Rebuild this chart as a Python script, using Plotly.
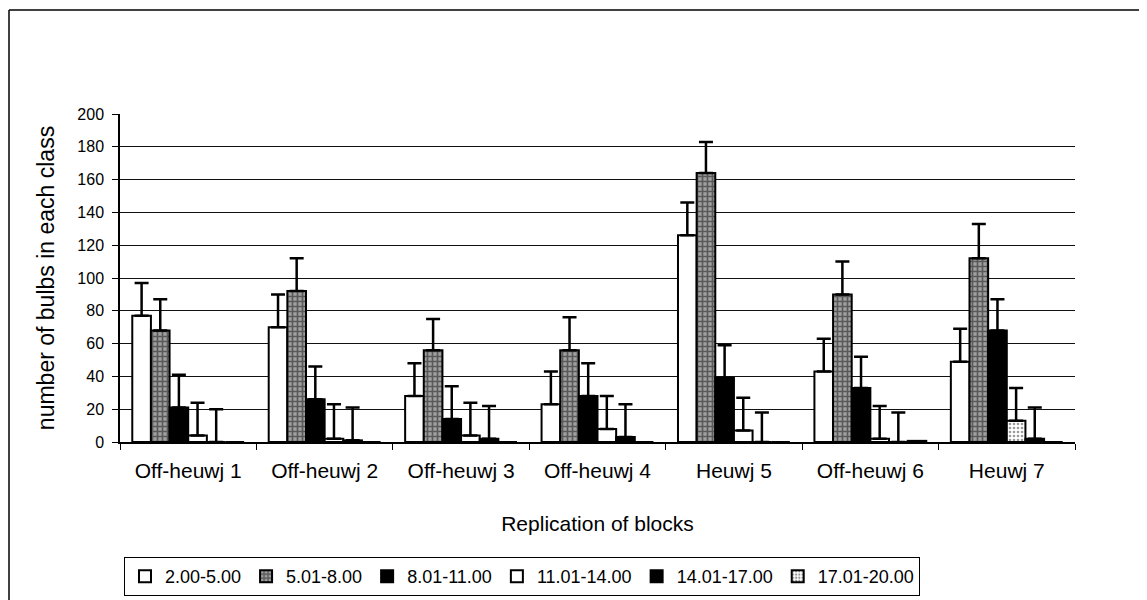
import plotly.graph_objects as go

categories = ["Off-heuwj 1", "Off-heuwj 2", "Off-heuwj 3", "Off-heuwj 4",
              "Heuwj 5", "Off-heuwj 6", "Heuwj 7"]
series_names = ["2.00-5.00", "5.01-8.00", "8.01-11.00", "11.01-14.00",
                "14.01-17.00", "17.01-20.00"]

v_2_5 = [77, 70, 28, 23, 126, 43, 49]
v_5_8 = [68, 92, 56, 56, 164, 90, 112]
v_8_11 = [21, 26, 14, 28, 39, 33, 68]
v_11_14 = [4, 2, 4, 8, 7, 2, 13]
v_14_17 = [0, 1, 2, 3, 0, 0, 2]
v_17_20 = [0, 0, 0, 0, 0, 0.7, 0]

e_2_5 = [20, 20, 20, 20, 20, 20, 20]
e_5_8 = [19, 20, 19, 20, 19, 20, 21]
e_8_11 = [20, 20, 20, 20, 20, 19, 19]
e_11_14 = [20, 21, 20, 20, 20, 20, 20]
e_14_17 = [20, 20, 20, 20, 18, 18, 19]
e_17_20 = None

y_ticks = [0, 20, 40, 60, 80, 100, 120, 140, 160, 180, 200]

values = [v_2_5, v_5_8, v_8_11, v_11_14, v_14_17, v_17_20]
errors = [e_2_5, e_5_8, e_8_11, e_11_14, e_14_17, e_17_20]

styles = [
    dict(color="white", pattern=dict(shape="")),
    dict(color="#888888", pattern=dict(shape="+", fgcolor="#111111", bgcolor="#a0a0a0",
                                       size=5, solidity=0.55)),
    dict(color="black", pattern=dict(shape="")),
    dict(color="white", pattern=dict(shape=["", "", "", "", "", "", "."],
                                     fgcolor="#333333", bgcolor="white",
                                     size=4, solidity=0.35)),
    dict(color="black", pattern=dict(shape="")),
    dict(color="#bbbbbb", pattern=dict(shape=".", fgcolor="#222222", bgcolor="white",
                                       size=4, solidity=0.4)),
]

FONT = "Liberation Sans, Arial, sans-serif"

fig = go.Figure()
for name, vals, err, st in zip(series_names, values, errors, styles):
    kw = {}
    if err is not None:
        kw["error_y"] = dict(type="data", array=err, arrayminus=[0] * len(err),
                             symmetric=False, color="black", thickness=2.5, width=7)
    fig.add_trace(go.Bar(
        x=categories, y=vals, name=name,
        marker=dict(color=st["color"], pattern=st["pattern"],
                    line=dict(color="black", width=2)),
        **kw))

# page offset (body margin) of the rendered figure
OFF = 8
W, H = 1139, 592
L, T = 112, 106
pw, ph = 955, 328
R = W - L - pw
B = H - T - ph


def px_x(sx):
    return (sx - OFF - L) / pw


def px_y(sy):
    return (H - B - (sy - OFF)) / ph


fig.update_layout(
    width=W, height=H,
    margin=dict(l=L, r=R, t=T, b=B, autoexpand=False),
    paper_bgcolor="white", plot_bgcolor="white",
    barmode="group", bargap=0.18, bargroupgap=0,
    font=dict(family=FONT, color="black"),
    showlegend=True,
    legend=dict(orientation="h", x=px_x(124), y=px_y(557),
                xanchor="left", yanchor="top",
                bordercolor="black", borderwidth=1,
                font=dict(size=18, family=FONT),
                itemwidth=30, tracegroupgap=0,
                traceorder="normal"),
    xaxis=dict(
        showline=True, linecolor="black", linewidth=1.5,
        ticks="outside", tickson="boundaries", ticklen=6, tickcolor="black",
        tickfont=dict(size=21, family=FONT),
        ticklabelstandoff=9,
        title=dict(text="Replication of blocks", font=dict(size=21, family=FONT),
                   standoff=35),
        showgrid=False,
    ),
    yaxis=dict(
        range=[0, 200], tickvals=y_ticks, ticktext=[str(t) for t in y_ticks],
        showline=True, linecolor="black", linewidth=1.5,
        ticks="outside", ticklen=6, tickcolor="black",
        tickfont=dict(size=16, family=FONT),
        ticklabelstandoff=5,
        showgrid=True, gridcolor="#111111", gridwidth=1,
        zeroline=False,
        title=dict(text="number of bulbs in each class", font=dict(size=23, family=FONT),
                   standoff=16),
    ),
    shapes=[
        dict(type="line", xref="paper", yref="paper",
             x0=px_x(9), x1=px_x(1180), y0=px_y(10), y1=px_y(10),
             line=dict(color="black", width=1.5), layer="below"),
        dict(type="line", xref="paper", yref="paper",
             x0=px_x(9), x1=px_x(9), y0=px_y(10), y1=px_y(640),
             line=dict(color="black", width=1.5), layer="below"),
    ],
)

fig.write_html("out.html")
